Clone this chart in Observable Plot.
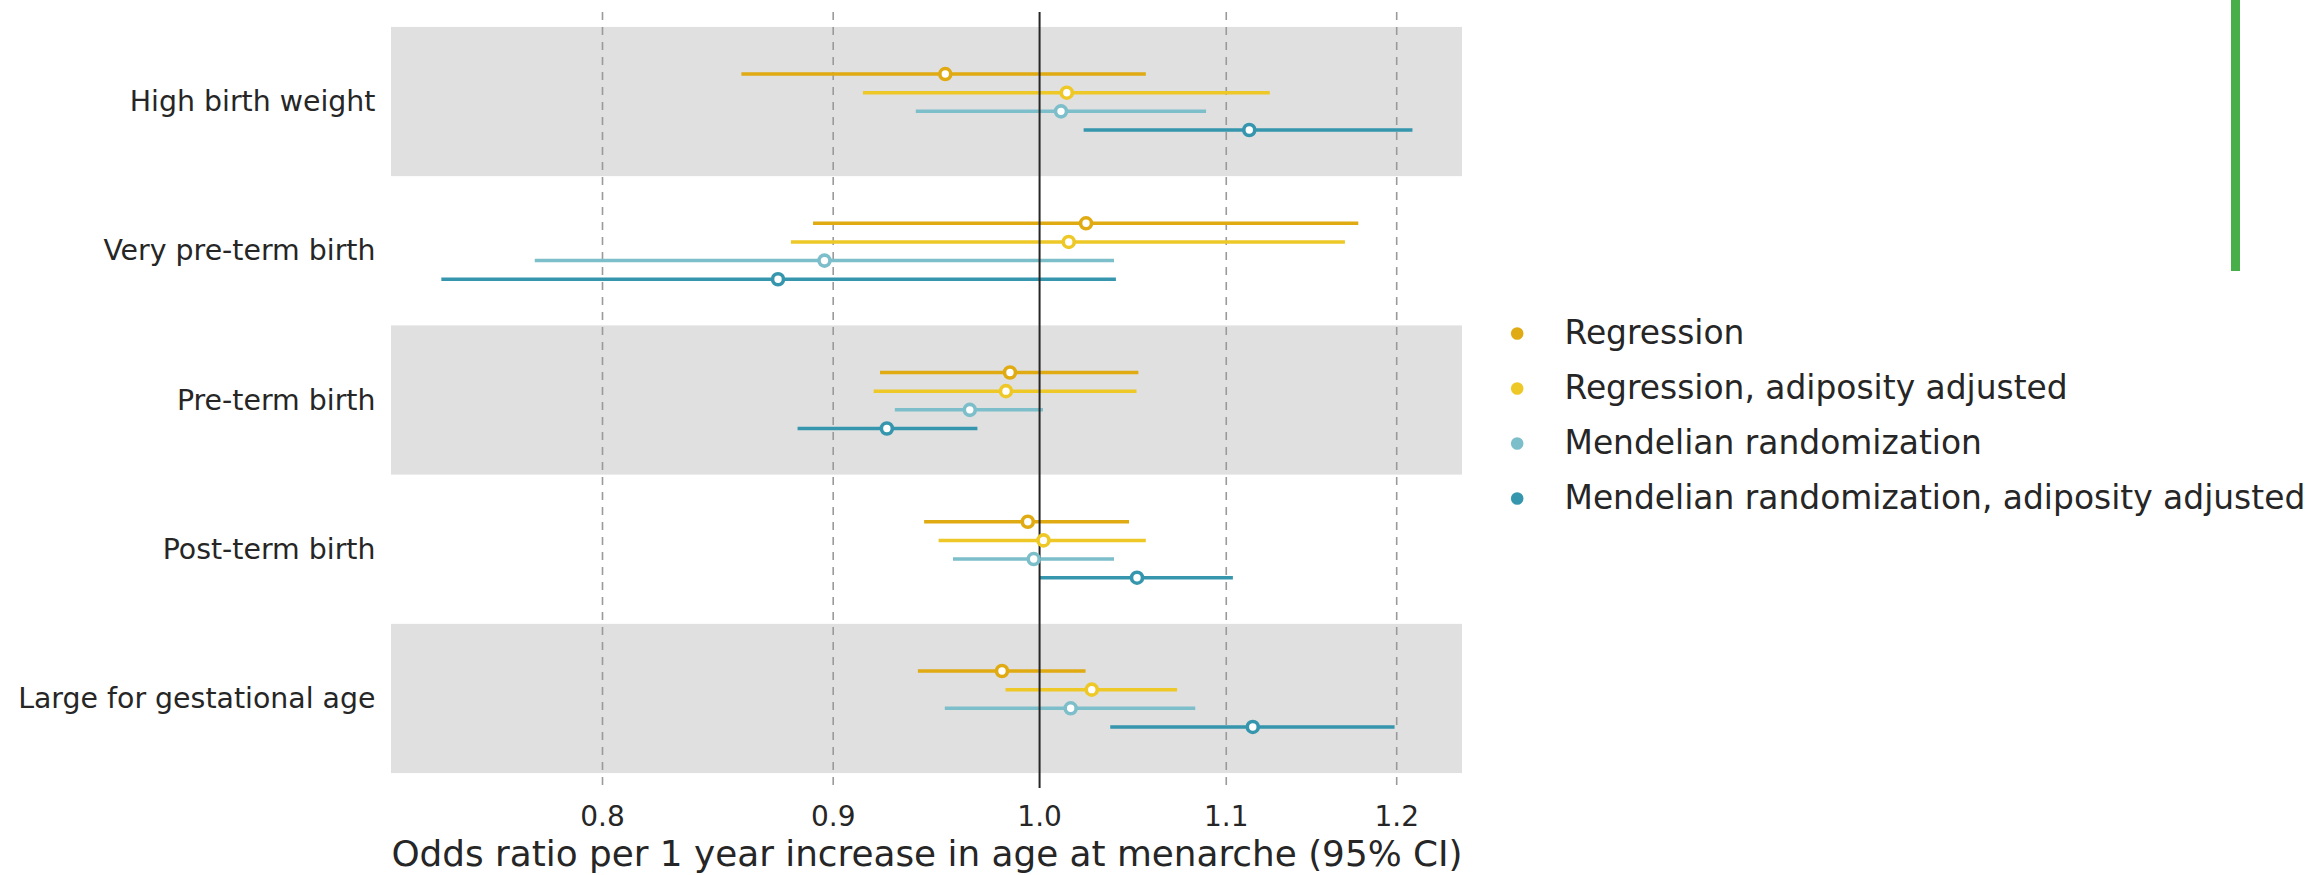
<!DOCTYPE html>
<html><head><meta charset="utf-8">
<script src="https://cdn.jsdelivr.net/npm/d3@7"></script>
<script src="https://cdn.jsdelivr.net/npm/@observablehq/plot@0.6"></script>
<style>
html,body{margin:0;padding:0;background:#fff;overflow:hidden;}
#wrap{position:relative;width:2319px;height:875px;overflow:hidden;font-family:"DejaVu Sans";}
#chart{position:absolute;left:0;top:0;}
#legend{position:absolute;left:1489px;top:260px;}
#bar{position:absolute;left:2231px;top:0;width:9px;height:271px;background:#47ae4a;}
</style></head><body>
<div id="wrap"><div id="chart"></div><div id="legend"></div><div id="bar"></div></div>
<script>
// ---- data ----
const categories = ["High birth weight", "Very pre-term birth", "Pre-term birth", "Post-term birth", "Large for gestational age"];
const series = ["Regression", "Regression, adiposity adjusted", "Mendelian randomization", "Mendelian randomization, adiposity adjusted"];
const colors = ["#e0aa12", "#eec826", "#7dbecb", "#3596ae"];
// rows = series, columns = categories
const estimate = [
  [0.953, 1.024, 0.985, 0.994, 0.981],
  [1.014, 1.015, 0.983, 1.002, 1.027],
  [1.011, 0.896, 0.965, 0.997, 1.016],
  [1.113, 0.875, 0.925, 1.051, 1.115]
];
const lower = [
  [0.859, 0.891, 0.922, 0.943, 0.940],
  [0.914, 0.881, 0.919, 0.950, 0.983],
  [0.939, 0.773, 0.929, 0.957, 0.953],
  [1.023, 0.737, 0.884, 1.000, 1.037]
];
const upper = [
  [1.056, 1.177, 1.052, 1.047, 1.024],
  [1.125, 1.169, 1.051, 1.056, 1.073],
  [1.089, 1.039, 1.002, 1.039, 1.083],
  [1.210, 1.040, 0.969, 1.104, 1.199]
];
const xTicks = [0.8, 0.9, 1.0, 1.1, 1.2];
const gridTicks = [0.8, 0.9, 1.1, 1.2];
const xTitle = "Odds ratio per 1 year increase in age at menarche (95% CI)";

// ---- layout helpers ----
const seriesOffset = [-0.1875, -0.0625, 0.0625, 0.1875];
const rows = [];
series.forEach((s, si) => {
  categories.forEach((c, ci) => {
    rows.push({series: s, category: c, y: ci + seriesOffset[si],
      est: estimate[si][ci], lo: lower[si][ci], hi: upper[si][ci]});
  });
});
const shaded = categories.map((c, i) => i).filter(i => i % 2 === 0);
const catIdx = categories.map((c, i) => i);
const textColor = "#262626";

const chart = Plot.plot({
  width: 2319, height: 875,
  marginLeft: 391, marginRight: 857, marginTop: 12, marginBottom: 87,
  style: {fontFamily: "DejaVu Sans", color: textColor, background: "transparent"},
  x: {type: "log", domain: [0.7183, 1.241]},
  y: {domain: [-0.6, 4.6], reverse: true},
  color: {domain: series, range: colors},
  marks: [
    Plot.rect(shaded, {y1: d => d - 0.5, y2: d => d + 0.5, fill: "#e0e0e0"}),
    Plot.ruleX(gridTicks, {stroke: "#9a9a9a", strokeWidth: 1.6, strokeDasharray: "8,7"}),
    Plot.ruleY(rows, {y: "y", x1: "lo", x2: "hi", stroke: "series", strokeWidth: 3.5}),
    Plot.ruleX([1], {stroke: textColor, strokeWidth: 2}),
    Plot.dot(rows, {x: "est", y: "y", stroke: "series", fill: "white", r: 5.5, strokeWidth: 3.6}),
    Plot.axisY({ticks: catIdx, tickFormat: i => categories[i], tickSize: 0, tickPadding: 16, fontSize: 28.4, label: null}),
    Plot.axisX({ticks: xTicks, tickFormat: d3.format(".1f"), tickSize: 0, tickPadding: 18, fontSize: 28, label: null}),
    Plot.text([xTitle], {text: d => d, frameAnchor: "bottom", lineAnchor: "middle", dy: 66.5, fontSize: 35.8, fill: textColor})
  ]
});
document.getElementById("chart").appendChild(chart);

const legend = Plot.plot({
  width: 830, height: 300, margin: 0,
  style: {fontFamily: "DejaVu Sans", color: textColor, background: "transparent", overflow: "visible"},
  y: {type: "point", domain: series, range: [72.7, 238.3], padding: 0, axis: null},
  color: {domain: series, range: colors},
  marks: [
    Plot.dot(series, {y: d => d, frameAnchor: "left", dx: 27.7, r: 6.3, fill: d => d}),
    Plot.text(series, {y: d => d, text: d => d, frameAnchor: "left", dx: 75, textAnchor: "start", fontSize: 32.9, fill: textColor})
  ]
});
document.getElementById("legend").appendChild(legend);
</script>
</body></html>
